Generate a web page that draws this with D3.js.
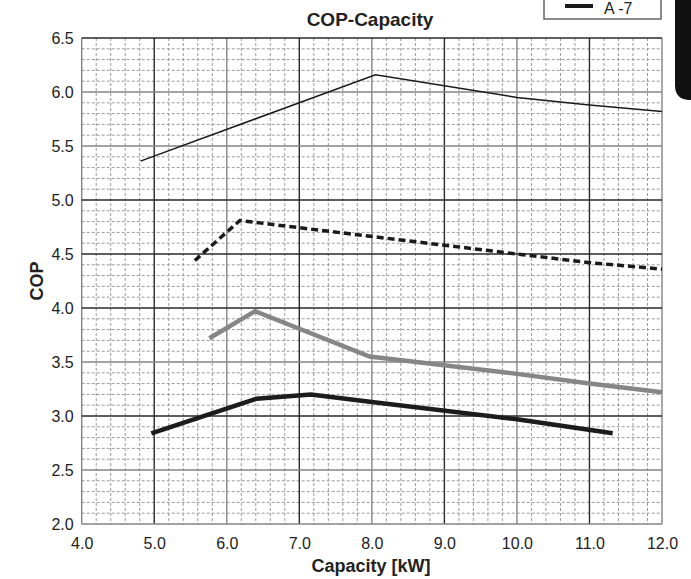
<!DOCTYPE html>
<html>
<head>
<meta charset="utf-8">
<script src="https://cdn.jsdelivr.net/npm/d3@7"></script>
<style>
  body { margin: 0; background: #fff; }
  text { font-family: "Liberation Sans Narrow", "Liberation Sans", Arial, sans-serif; }
</style>
</head>
<body>
<div class="chart"></div>
<script>

// Values (capacity kW -> COP)
var capThin = [4.81, 8.05, 10.0, 11.0, 12.0];
var copThin = [5.36, 6.16, 5.95, 5.88, 5.82];

var capDash = [5.56, 6.18, 10.0, 11.0, 12.0];
var copDash = [4.44, 4.81, 4.50, 4.42, 4.36];

var capGray = [5.76, 6.39, 7.97, 10.0, 11.0, 12.0];
var copGray = [3.72, 3.97, 3.55, 3.39, 3.30, 3.22];

var capBold = [4.96, 6.41, 7.16, 8.0, 10.0, 11.32];
var copBold = [2.84, 3.16, 3.20, 3.13, 2.97, 2.84];

var xTicks = [4, 5, 6, 7, 8, 9, 10, 11, 12];
var yTicks = [2.0, 2.5, 3.0, 3.5, 4.0, 4.5, 5.0, 5.5, 6.0, 6.5];
var legendLabel = "A -7";

// Configuration
var width = 691;
var height = 579;
var plotLeft = 81.7, plotTop = 38, plotRight = 662, plotBottom = 524;

var svg = d3.select(".chart").append("svg")
    .attr("width", width)
    .attr("height", height);

var x = d3.scaleLinear().domain([4, 12]).range([plotLeft, plotRight]);
var y = d3.scaleLinear().domain([2, 6.5]).range([plotBottom, plotTop]);

// minor grid (dashed)
var minorX = d3.range(4, 12.001, 0.2).filter(function(v) { return Math.abs(v - Math.round(v)) > 0.01; });
var minorY = d3.range(2, 6.501, 0.1).filter(function(v) { return Math.abs(v * 2 - Math.round(v * 2)) > 0.01; });

var grid = svg.append("g");
grid.selectAll("line.mx")
    .data(minorX)
    .enter().append("line")
    .attr("x1", function(d) { return x(d); })
    .attr("x2", function(d) { return x(d); })
    .attr("y1", plotTop).attr("y2", plotBottom)
    .attr("stroke", "#9a9a9a")
    .attr("stroke-width", 1)
    .attr("stroke-dasharray", "3,2");
grid.selectAll("line.my")
    .data(minorY)
    .enter().append("line")
    .attr("y1", function(d) { return y(d); })
    .attr("y2", function(d) { return y(d); })
    .attr("x1", plotLeft).attr("x2", plotRight)
    .attr("stroke", "#9a9a9a")
    .attr("stroke-width", 1)
    .attr("stroke-dasharray", "3,2");

// major grid
grid.selectAll("line.vx")
    .data(xTicks)
    .enter().append("line")
    .attr("x1", function(d) { return x(d); })
    .attr("x2", function(d) { return x(d); })
    .attr("y1", plotTop).attr("y2", plotBottom)
    .attr("stroke", function(d) { return d % 2 ? "#2a2a2a" : "#858585"; })
    .attr("stroke-width", 1.4);
grid.selectAll("line.hy")
    .data(yTicks)
    .enter().append("line")
    .attr("y1", function(d) { return y(d); })
    .attr("y2", function(d) { return y(d); })
    .attr("x1", plotLeft).attr("x2", plotRight)
    .attr("stroke", function(d) { return [6.0, 5.5, 3.5, 2.5, 2.0].indexOf(d) >= 0 ? "#858585" : "#2a2a2a"; })
    .attr("stroke-width", 1.4);

// axes labels
svg.append("g")
    .attr("transform", "translate(0," + plotBottom + ")")
    .call(d3.axisBottom(x).tickValues(xTicks).tickSize(0).tickPadding(14).tickFormat(d3.format(".1f")))
    .call(function(g) { g.select(".domain").remove(); })
    .selectAll("text")
    .attr("font-size", 16)
    .attr("font-family", null)
    .attr("fill", "#222");

svg.append("g")
    .attr("transform", "translate(" + plotLeft + ",0)")
    .call(d3.axisLeft(y).tickValues(yTicks).tickSize(0).tickPadding(8).tickFormat(d3.format(".1f")))
    .call(function(g) { g.select(".domain").remove(); })
    .selectAll("text")
    .attr("font-size", 16)
    .attr("font-family", null)
    .attr("fill", "#222");

// series
function series(caps, cops) {
    return caps.map(function(c, i) { return [c, cops[i]]; });
}
var line = d3.line()
    .x(function(d) { return x(d[0]); })
    .y(function(d) { return y(d[1]); });

var lines = [
    {data: series(capThin, copThin), color: "#1a1a1a", w: 1.5, dash: null},
    {data: series(capDash, copDash), color: "#1a1a1a", w: 3.5, dash: "7,4"},
    {data: series(capGray, copGray), color: "#868686", w: 4.5, dash: null},
    {data: series(capBold, copBold), color: "#1c1c1c", w: 4.5, dash: null}
];

svg.selectAll("path.series")
    .data(lines)
    .enter().append("path")
    .attr("class", "series")
    .attr("fill", "none")
    .attr("stroke", function(d) { return d.color; })
    .attr("stroke-width", function(d) { return d.w; })
    .attr("stroke-dasharray", function(d) { return d.dash; })
    .attr("d", function(d) { return line(d.data); });

// titles
svg.append("text")
    .attr("x", 370).attr("y", 26)
    .attr("text-anchor", "middle")
    .attr("font-size", 19)
    .attr("font-weight", "bold")
    .attr("fill", "#222")
    .text("COP-Capacity");

svg.append("text")
    .attr("x", 371).attr("y", 572)
    .attr("text-anchor", "middle")
    .attr("font-size", 18)
    .attr("font-weight", "bold")
    .attr("fill", "#222")
    .text("Capacity [kW]");

svg.append("text")
    .attr("transform", "translate(43,281) rotate(-90)")
    .attr("text-anchor", "middle")
    .attr("font-size", 18)
    .attr("font-weight", "bold")
    .attr("fill", "#222")
    .text("COP");

// legend box
var legend = svg.append("g");
legend.append("rect")
    .attr("x", 544).attr("y", -10)
    .attr("width", 117).attr("height", 29)
    .attr("fill", "#fff")
    .attr("stroke", "#666")
    .attr("stroke-width", 1.5);
legend.append("line")
    .attr("x1", 565).attr("x2", 593)
    .attr("y1", 6).attr("y2", 6)
    .attr("stroke", "#1a1a1a")
    .attr("stroke-width", 4);
legend.append("text")
    .attr("x", 604).attr("y", 14)
    .attr("font-size", 16)
    .attr("fill", "#222")
    .text(legendLabel);

// black side tab
svg.append("path")
    .attr("d", "M675,0 H691 V100 H690 Q675,100 675,85 Z")
    .attr("fill", "#111");

</script>
</body>
</html>
